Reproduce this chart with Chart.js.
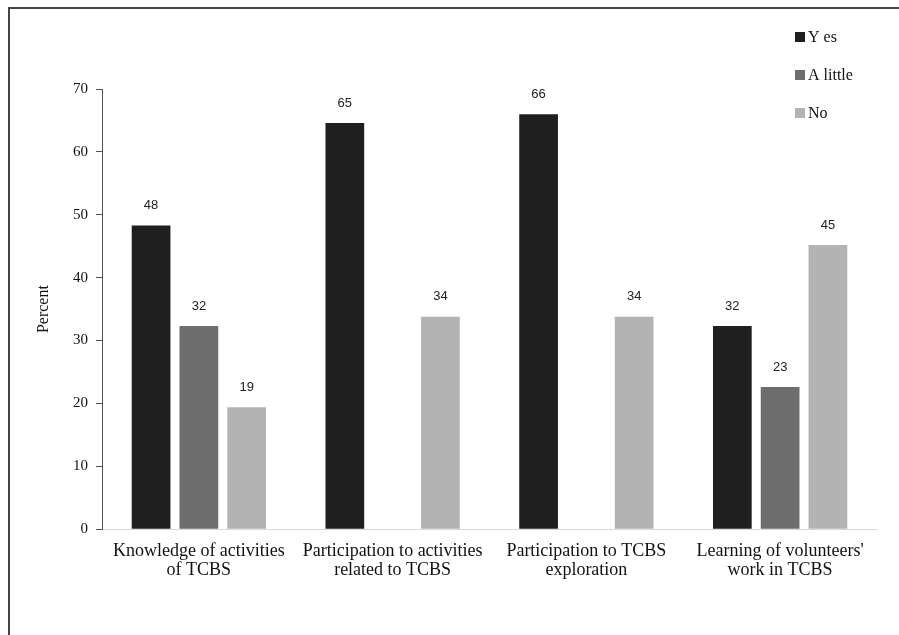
<!DOCTYPE html>
<html>
<head>
<meta charset="utf-8">
<script src="https://cdn.jsdelivr.net/npm/chart.js@4"></script>
<style>
  html, body { margin: 0; padding: 0; background: #fff; }
  #wrap { position: relative; width: 899px; height: 635px; }
</style>
</head>
<body>
<div id="wrap"><canvas id="chart" width="899" height="635"></canvas></div>
<script>
// categories and series
const categories = [
  ["Knowledge of activities", "of TCBS"],
  ["Participation to activities", "related to TCBS"],
  ["Participation to TCBS", "exploration"],
  ["Learning of volunteers'", "work in TCBS"]
];
const seriesNames = ["Y es", "A little", "No"];
const yesValues = [48.3, 64.6, 66.0, 32.3];
const littleValues = [32.3, 0, 0, 22.6];
const noValues = [19.4, 33.8, 33.8, 45.2];
const yTicks = [0, 10, 20, 30, 40, 50, 60, 70];

const colors = ['#1f1f1f', '#6d6d6d', '#b3b3b3'];
const serif = '"Liberation Serif", "Times New Roman", serif';

// frame, value labels and legend
const extras = {
  id: 'extras',
  beforeDraw(chart) {
    const ctx = chart.ctx;
    ctx.save();
    ctx.fillStyle = '#fff';
    ctx.fillRect(0, 0, chart.width, chart.height);
    ctx.strokeStyle = '#444';
    ctx.lineWidth = 2;
    ctx.beginPath();
    ctx.moveTo(9, chart.height);
    ctx.lineTo(9, 8);
    ctx.lineTo(chart.width, 8);
    ctx.stroke();
    ctx.restore();
  },
  afterDatasetsDraw(chart) {
    const ctx = chart.ctx;
    ctx.save();
    ctx.font = '13px "Liberation Sans", Arial, sans-serif';
    ctx.fillStyle = '#222';
    ctx.textAlign = 'center';
    ctx.textBaseline = 'middle';
    chart.data.datasets.forEach((ds, i) => {
      chart.getDatasetMeta(i).data.forEach((bar, j) => {
        const v = ds.data[j];
        if (!v) return;
        ctx.fillText(Math.round(v), bar.x, bar.y - 20);
      });
    });

    // legend, top right
    ctx.font = '16px ' + serif;
    ctx.textAlign = 'left';
    const lx = 795, ly = [37, 75, 113];
    chart.data.datasets.forEach((ds, i) => {
      ctx.fillStyle = ds.backgroundColor;
      ctx.fillRect(lx, ly[i] - 5, 10, 10);
      ctx.fillStyle = '#111';
      ctx.fillText(ds.label, lx + 13, ly[i] + 1);
    });
    ctx.restore();
  }
};

new Chart(document.getElementById('chart'), {
  type: 'bar',
  data: {
    labels: categories,
    datasets: [
      { label: seriesNames[0], data: yesValues, backgroundColor: colors[0] },
      { label: seriesNames[1], data: littleValues, backgroundColor: colors[1] },
      { label: seriesNames[2], data: noValues, backgroundColor: colors[2] }
    ]
  },
  options: {
    responsive: false,
    animation: false,
    devicePixelRatio: 1,
    categoryPercentage: 0.74,
    barPercentage: 0.81,
    layout: { padding: { top: 89, right: 22, bottom: 50, left: 32 } },
    plugins: {
      legend: { display: false },
      tooltip: { enabled: false }
    },
    scales: {
      x: {
        grid: { display: false },
        border: { color: '#d9d9d9', width: 1 },
        ticks: {
          color: '#111',
          padding: 5,
          maxRotation: 0,
          autoSkip: false,
          font: { family: serif, size: 18, lineHeight: 1.05 }
        }
      },
      y: {
        min: 0,
        max: 70,
        afterBuildTicks: (scale) => { scale.ticks = yTicks.map(v => ({ value: v })); },
        afterFit: (scale) => { scale.width = 70; },
        grid: { drawOnChartArea: false, tickLength: 6, color: '#555' },
        border: { color: '#555', width: 1 },
        ticks: {
          color: '#111',
          padding: 8,
          font: { family: serif, size: 15 }
        },
        title: {
          display: true,
          text: 'Percent',
          color: '#111',
          padding: { top: 2, bottom: 0 },
          font: { family: serif, size: 16 }
        }
      }
    }
  },
  plugins: [extras]
});
</script>
</body>
</html>
